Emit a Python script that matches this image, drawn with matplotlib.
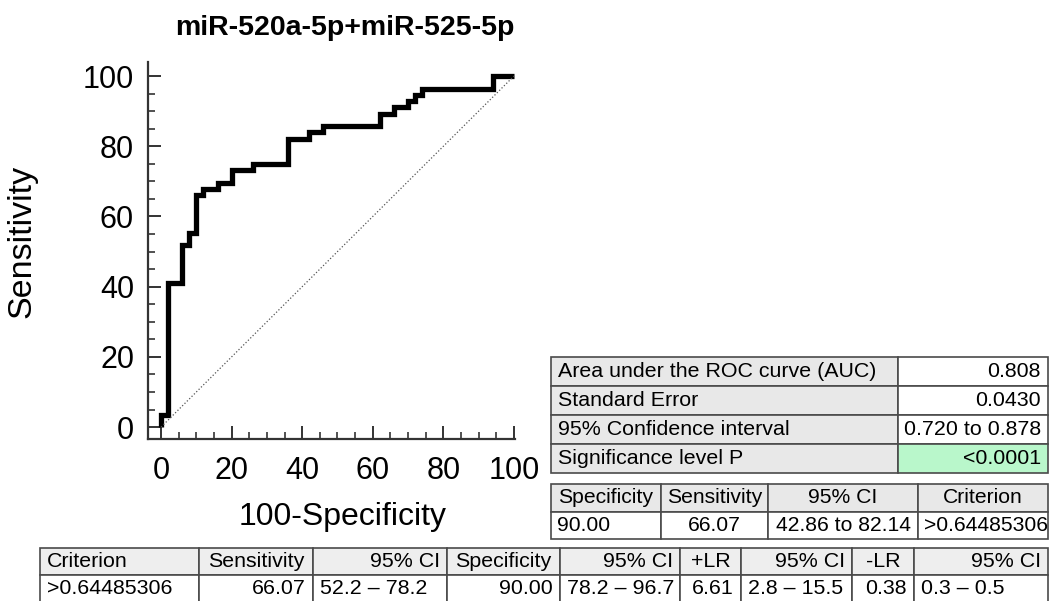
import matplotlib.pyplot as plt
from matplotlib.ticker import MultipleLocator

plt.rcParams['font.family'] = ['Liberation Sans', 'DejaVu Sans']

# ROC curve: 100-specificity step positions and sensitivity level to the left of each
fpr = [0, 2, 6, 8, 10, 12, 16, 20, 26, 36, 42, 46, 62, 66, 70, 72, 74, 94, 100]
sens = [0, 3.57, 41.07, 51.79, 55.36, 66.07, 67.86, 69.64, 73.21, 75.00,
        82.14, 83.93, 85.71, 89.29, 91.07, 92.86, 94.64, 96.43, 100]

title = 'miR-520a-5p+miR-525-5p'

auc_labels = ['Area under the ROC curve (AUC)', 'Standard Error',
              '95% Confidence interval', 'Significance level P']
auc_values = ['0.808', '0.0430', '0.720 to 0.878', '<0.0001']

cut_header = ['Specificity', 'Sensitivity', '95% CI', 'Criterion']
cut_row = ['90.00', '66.07', '42.86 to 82.14', '>0.64485306']

crit_header = ['Criterion', 'Sensitivity', '95% CI', 'Specificity', '95% CI',
               '+LR', '95% CI', '-LR', '95% CI']
crit_row = ['>0.64485306', '66.07', '52.2 – 78.2', '90.00', '78.2 – 96.7',
            '6.61', '2.8 – 15.5', '0.38', '0.3 – 0.5']

W, H = 1049, 601
fig = plt.figure(figsize=(W / 100, H / 100), dpi=100)


def px_axes(x0, y0, x1, y1):
    return fig.add_axes([x0 / W, 1 - y1 / H, (x1 - x0) / W, (y1 - y0) / H])


# ---- ROC plot ----
ax = px_axes(148, 62, 515, 439)
ax.step(fpr, sens, where='pre', color='black', lw=3.8,
        solid_joinstyle='miter', solid_capstyle='butt')
ax.plot([0, 100], [0, 100], color='#555555', lw=0.9, ls=':')
ax.set_xlim(-3.7, 100.3)
ax.set_ylim(-3.4, 104)
for s in ['top', 'right']:
    ax.spines[s].set_visible(False)
for s in ['left', 'bottom']:
    ax.spines[s].set_linewidth(1.6)
    ax.spines[s].set_color('#333333')
ax.xaxis.set_major_locator(MultipleLocator(20))
ax.xaxis.set_minor_locator(MultipleLocator(5))
ax.yaxis.set_major_locator(MultipleLocator(20))
ax.yaxis.set_minor_locator(MultipleLocator(5))
ax.tick_params(which='major', direction='in', length=9.5, width=1.4,
               color='#333333', labelsize=22)
ax.tick_params(which='minor', direction='in', length=5, width=1.2,
               color='#333333')
ax.tick_params(axis='y', which='major', pad=10)
ax.tick_params(axis='x', which='major', pad=12)
ax.set_xlabel('100-Specificity', fontsize=23)
ax.xaxis.set_label_coords(0.529, -0.168)
ax.set_ylabel('Sensitivity', fontsize=24.5)
ax.yaxis.set_label_coords(-0.30, 0.525)
fig.text(345 / W, 1 - 35 / H, title, fontsize=20.5, fontweight='bold',
         ha='center', va='baseline')


# ---- tables ----
EDGE = '#4a4a4a'
GRAY = '#e8e8e8'


def draw_table(x0, y0, x1, y1, rows, widths, colors, aligns, size=15, pad=8):
    tax = px_axes(x0, y0, x1, y1)
    tax.axis('off')
    tot = sum(widths)
    tb = tax.table(cellText=rows, cellColours=colors,
                   colWidths=[w / tot for w in widths],
                   bbox=[0, 0, 1, 1])
    tb.auto_set_font_size(False)
    tb.set_fontsize(size)
    for (r, c), cell in tb.get_celld().items():
        cell.set_edgecolor(EDGE)
        cell.set_linewidth(1.2)
        cell.PAD = pad / widths[c]
        cell.get_text().set_horizontalalignment(aligns[r][c])
    return tb


# AUC summary table
draw_table(551, 357, 1048, 473,
           [[a, b] for a, b in zip(auc_labels, auc_values)],
           [347, 150],
           [[GRAY, 'white'], [GRAY, 'white'], [GRAY, 'white'], [GRAY, '#b9f7cb']],
           [['left', 'right']] * 4, size=15.4, pad=7)

# cutoff table
draw_table(551, 484, 1048, 539,
           [cut_header, cut_row],
           [110, 107, 150, 130],
           [[GRAY] * 4, ['white'] * 4],
           [['center'] * 4, ['left', 'center', 'center', 'left']], size=15.2, pad=6)

# criterion table
crit_w = [159, 114, 134, 113, 120, 61, 111, 62, 134]
draw_table(40, 548, 1048, 602,
           [crit_header, crit_row], crit_w,
           [['#eeeeee'] * 9, ['white'] * 9],
           [['left', 'center', 'right', 'center', 'right', 'center', 'right', 'center', 'right'],
            ['left', 'right', 'left', 'right', 'left', 'right', 'left', 'right', 'left']],
           size=15.4, pad=7)

fig.savefig('out.png', dpi=100)
